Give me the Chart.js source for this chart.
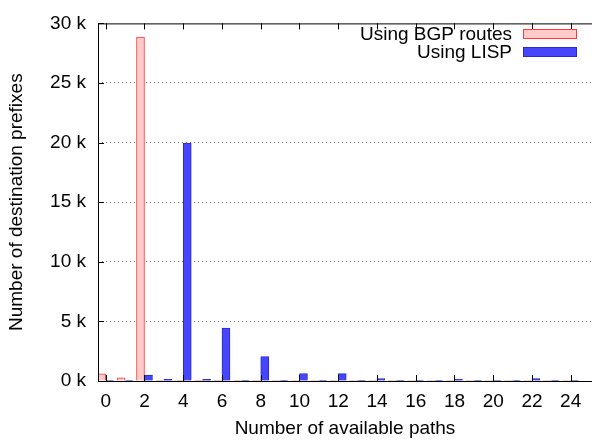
<!DOCTYPE html>
<html>
<head>
<meta charset="utf-8">
<script src="https://cdn.jsdelivr.net/npm/chart.js@4"></script>
<style>
  html, body { margin: 0; padding: 0; background: #fff; }
  #wrap { width: 592px; height: 440px; }
</style>
</head>
<body>
<div id="wrap"><canvas id="pathsChart" width="592" height="440"></canvas></div>
<script>
// number of available paths
const paths = [0, 1, 2, 3, 4, 5, 6, 7, 8, 9, 10, 11, 12, 13, 14, 15, 16, 17, 18, 19, 20, 21, 22, 23, 24];
const bgpPrefixes = [600, 270, 28850, 20, 15, 10, 10, 8, 8, 5, 5, 5, 5, 5, 3, 3, 3, 3, 3, 3, 3, 3, 3, 3, 3];
const lispPrefixes = [10, 10, 500, 130, 19950, 130, 4430, 20, 2050, 20, 620, 20, 620, 20, 200, 20, 30, 10, 150, 10, 60, 10, 200, 10, 30];
const xTicks = [0, 2, 4, 6, 8, 10, 12, 14, 16, 18, 20, 22, 24];
const yTicks = [0, 5000, 10000, 15000, 20000, 25000, 30000];

const FONT = "'Liberation Sans', Arial, sans-serif";

const toPoints = (values) => paths.map((p, i) => ({ x: p, y: values[i] }));

// gnuplot style frame, inward ticks and legend
const framePlugin = {
    id: "frame",
    afterDraw(chart) {
        const { ctx, chartArea: a, scales } = chart;
        ctx.save();
        ctx.strokeStyle = "#000";
        ctx.lineWidth = 1;
        ctx.beginPath();
        ctx.moveTo(a.left + 0.5, a.top + 0.5);
        ctx.lineTo(a.right + 0.5, a.top + 0.5);
        ctx.moveTo(a.left + 0.5, a.top);
        ctx.lineTo(a.left + 0.5, a.bottom + 0.5);
        xTicks.forEach((t) => {
            const px = Math.round(scales.x.getPixelForValue(t)) + 0.5;
            ctx.moveTo(px, a.top);
            ctx.lineTo(px, a.top + 6);
            ctx.moveTo(px, a.bottom);
            ctx.lineTo(px, a.bottom - 6);
        });
        yTicks.forEach((t) => {
            const py = Math.round(scales.y.getPixelForValue(t)) + 0.5;
            ctx.moveTo(a.left, py);
            ctx.lineTo(a.left + 6, py);
        });
        ctx.stroke();
        ctx.beginPath();
        ctx.moveTo(a.left, a.bottom + 0.5);
        ctx.lineTo(a.right + 1, a.bottom + 0.5);
        ctx.stroke();

        // legend
        ctx.font = "19px " + FONT;
        ctx.textAlign = "right";
        ctx.textBaseline = "middle";
        ctx.fillStyle = "#000";
        chart.data.datasets.forEach((ds, i) => {
            const y = 34 + i * 18;
            ctx.fillText(ds.label, 512, y + 1);
            ctx.fillStyle = ds.backgroundColor;
            ctx.fillRect(523, y - 5, 54, 10);
            ctx.strokeStyle = ds.borderColor;
            ctx.strokeRect(523.5, y - 4.5, 53, 9);
            ctx.fillStyle = "#000";
        });
        ctx.restore();
    },
};

const createChart = () => {
    return new Chart(document.getElementById("pathsChart"), {
        type: "bar",
        data: {
            datasets: [
                {
                    label: "Using BGP routes",
                    data: toPoints(bgpPrefixes),
                    backgroundColor: "#ffcaca",
                    borderColor: "#ff3a3a",
                    borderWidth: 1,
                    barThickness: 8,
                },
                {
                    label: "Using LISP",
                    data: toPoints(lispPrefixes),
                    backgroundColor: "#4646ff",
                    borderColor: "#2a2ad0",
                    borderWidth: 1,
                    barThickness: 8,
                },
            ],
        },
        plugins: [framePlugin],
        options: {
            responsive: false,
            animation: false,
            layout: { padding: { top: 20, right: 0, left: 0, bottom: 0 } },
            plugins: {
                legend: { display: false },
                tooltip: { enabled: false },
            },
            scales: {
                x: {
                    type: "linear",
                    offset: false,
                    min: -0.4,
                    max: 25.1,
                    afterBuildTicks: (scale) => {
                        scale.ticks = xTicks.map((v) => ({ value: v }));
                    },
                    afterFit: (scale) => { scale.height = 59; },
                    grid: { display: false, drawTicks: false },
                    border: { display: false },
                    ticks: {
                        color: "#000",
                        font: { family: FONT, size: 19 },
                        padding: 9,
                        maxRotation: 0,
                        autoSkip: false,
                    },
                    title: {
                        display: true,
                        text: "Number of available paths",
                        color: "#000",
                        font: { family: FONT, size: 19 },
                        padding: { top: 5, bottom: 0 },
                    },
                },
                y: {
                    min: 0,
                    max: 30000,
                    afterBuildTicks: (scale) => {
                        scale.ticks = yTicks.map((v) => ({ value: v }));
                    },
                    afterFit: (scale) => { scale.width = 98; },
                    grid: {
                        drawTicks: false,
                        color: (c) => (c.tick.value === 0 || c.tick.value === 30000 ? "rgba(0,0,0,0)" : "#777"),
                        lineWidth: 1,
                    },
                    border: { display: false, dash: [1, 3] },
                    ticks: {
                        color: "#000",
                        font: { family: FONT, size: 19 },
                        padding: 12,
                        callback: (v) => v / 1000 + " k",
                    },
                    title: {
                        display: true,
                        text: "Number of destination prefixes",
                        color: "#000",
                        font: { family: FONT, size: 19 },
                        padding: { top: 5, bottom: 0 },
                    },
                },
            },
        },
    });
};

createChart();
</script>
</body>
</html>
